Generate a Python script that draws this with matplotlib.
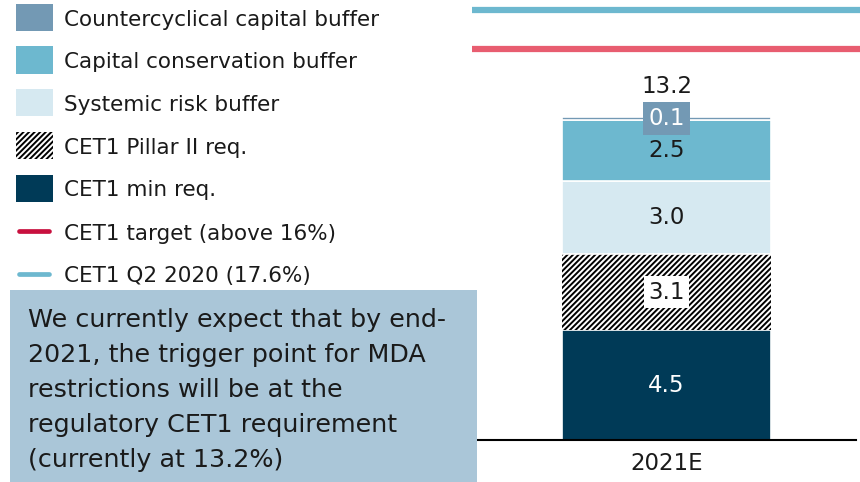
import matplotlib
matplotlib.use("Agg")
import matplotlib.pyplot as plt
from matplotlib.patches import Rectangle
from matplotlib.lines import Line2D
import numpy as np

plt.rcParams['font.family'] = ['DejaVu Sans']
plt.rcParams['hatch.linewidth'] = 1.4

# ---- data ----
categories = ['2021E']
series_names = ['CET1 min req.', 'CET1 Pillar II req.', 'Systemic risk buffer',
                'Capital conservation buffer', 'Countercyclical capital buffer']
cet1_min = [4.5]
cet1_pillar2 = [3.1]
systemic = [3.0]
conservation = [2.5]
countercyclical = [0.1]
total_label = ['13.2']
cet1_target = 16.0
cet1_q2_2020 = 17.6
legend_line_labels = ['CET1 target (above 16%)', 'CET1 Q2 2020 (17.6%)']
note_lines = ["We currently expect that by end-",
              "2021, the trigger point for MDA",
              "restrictions will be at the",
              "regulatory CET1 requirement",
              "(currently at 13.2%)"]

c_min = '#003a57'
c_sys = '#d6e9f1'
c_cons = '#6db8cf'
c_ccyb = '#7399b4'
c_target_chart = '#e85d70'
c_target_leg = '#c8103e'
c_q2 = '#6db8cf'
c_box = '#aac6d8'
c_text = '#1a1a1a'

W, H = 860, 482
fig = plt.figure(figsize=(8.6, 4.82), dpi=100)

def fx(x):
    return x / W

def fy(y):
    return 1 - y / H

ax = fig.add_axes([fx(477), fy(440), fx(856) - fx(477), 440 / H])
ax.set_xlim(-0.5, 0.5)
ax.set_ylim(0, 18)

x = np.arange(len(categories))
bw = 0.554
layers = [
    (cet1_min, dict(color=c_min)),
    (cet1_pillar2, dict(color='white', hatch='//////')),
    (systemic, dict(color=c_sys)),
    (conservation, dict(color=c_cons)),
    (countercyclical, dict(color=c_ccyb)),
]
bottom = np.zeros(len(categories))
bars = []
for vals, kw in layers:
    b = ax.bar(x, vals, bw, bottom=bottom, edgecolor='white', linewidth=1.2, **kw)
    if kw.get('hatch'):
        for p in b:
            p.set_edgecolor('black')
            p.set_linewidth(0)
    bars.append((b, np.array(vals), bottom.copy()))
    bottom = bottom + np.array(vals)

fs_val = 16.5
label_styles = [
    dict(color='white'),
    dict(color=c_text, bbox=dict(facecolor='white', edgecolor='none', pad=3)),
    dict(color=c_text),
    dict(color=c_text),
    dict(color='white', bbox=dict(facecolor=c_ccyb, edgecolor='none', pad=3.5)),
]
for i in range(len(categories)):
    for (b, v, s), st in zip(bars, label_styles):
        ax.text(x[i], s[i] + v[i] / 2, f'{v[i]:.1f}', ha='center', va='center',
                fontsize=fs_val, **st)
    ax.text(x[i], bottom[i] + 1.25, total_label[i], ha='center', va='center',
            fontsize=fs_val, color=c_text)

ax.axhline(cet1_target, xmin=-0.012, xmax=1.012, color=c_target_chart, lw=4.5,
           clip_on=False, solid_capstyle='butt')
ax.axhline(cet1_q2_2020, xmin=-0.012, xmax=1.012, color=c_q2, lw=4.5,
           clip_on=False, solid_capstyle='butt')

for s in ['left', 'right', 'top']:
    ax.spines[s].set_visible(False)
ax.spines['bottom'].set_linewidth(1.5)
ax.spines['bottom'].set_color('black')
ax.set_yticks([])
ax.set_xticks(x)
ax.set_xticklabels(categories, fontsize=fs_val, color=c_text)
ax.tick_params(axis='x', length=0, pad=9)

# ---- manual legend ----
fs_leg = 15.5
rows_y = [17.5, 60, 102.5, 145.5, 188, 231, 273.5]
base_off = 8.5
patch_specs = [
    dict(facecolor=c_ccyb, edgecolor='none'),
    dict(facecolor=c_cons, edgecolor='none'),
    dict(facecolor=c_sys, edgecolor='none'),
    dict(facecolor='white', hatch='//////', edgecolor='black', linewidth=0),
    dict(facecolor=c_min, edgecolor='none'),
]
patch_labels = series_names[::-1]
for k, (spec, lab) in enumerate(zip(patch_specs, patch_labels)):
    yc = rows_y[k]
    r = Rectangle((fx(16), fy(yc + 13.5)), fx(53) - fx(16), 27 / H,
                  transform=fig.transFigure, **spec)
    fig.add_artist(r)
    fig.text(fx(64), fy(yc + base_off), lab, ha='left', va='baseline',
             fontsize=fs_leg, color=c_text)
for k, (col, lab) in enumerate(zip([c_target_leg, c_q2], legend_line_labels)):
    yc = rows_y[5 + k]
    fig.add_artist(Line2D([fx(19), fx(49)], [fy(yc), fy(yc)], color=col, lw=3.4,
                          transform=fig.transFigure, solid_capstyle='round'))
    fig.text(fx(64), fy(yc + base_off), lab, ha='left', va='baseline',
             fontsize=fs_leg, color=c_text)

# ---- note box ----
fig.add_artist(Rectangle((fx(10), 0), fx(477) - fx(10), fy(290),
                         transform=fig.transFigure, facecolor=c_box,
                         edgecolor='none', zorder=5))
for k, line in enumerate(note_lines):
    fig.text(fx(28), fy(327 + 35 * k), line, ha='left', va='baseline',
             fontsize=18.3, color=c_text, zorder=6)

fig.savefig('out.png', dpi=100)
